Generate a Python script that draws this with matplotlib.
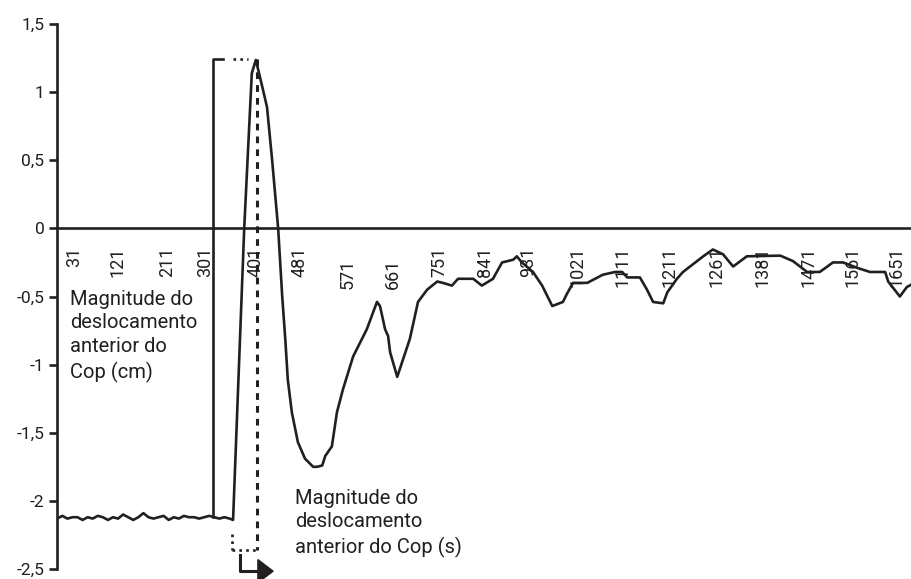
import matplotlib
matplotlib.use("Agg")
import matplotlib.pyplot as plt
import numpy as np

plt.rcParams['font.family'] = ['Roboto', 'DejaVu Sans']
ink = '#231f20'

# ---- data ----
# flat part before the step (noisy baseline)
base_x = [-6, 4, 14, 24, 34, 44, 54, 64, 74, 84, 94, 104, 114, 124, 134, 144, 154, 164,
          174, 184, 194, 204, 214, 224, 234, 244, 254, 264, 274, 284, 294, 304, 314, 324, 334]
base_y = [-2.13, -2.11, -2.13, -2.12, -2.12, -2.14, -2.12, -2.13, -2.11, -2.12, -2.14, -2.12,
          -2.13, -2.10, -2.12, -2.14, -2.12, -2.09, -2.12, -2.13, -2.12, -2.11, -2.14, -2.12,
          -2.13, -2.11, -2.12, -2.12, -2.13, -2.12, -2.11, -2.12, -2.13, -2.12, -2.13]
# response after the step
resp_x = [341, 363, 378, 386, 398, 408, 418, 430, 438, 444, 449, 457, 469, 483, 499, 507,
          517, 523, 536, 546, 558, 578, 605, 625, 631, 641, 647, 651, 665, 690, 706, 724,
          744, 755, 773, 785, 815, 832, 854, 872, 894, 901, 911, 933, 951, 971, 992, 1000,
          1012, 1040, 1071, 1095, 1109, 1119, 1144, 1158, 1170, 1190, 1198, 1217, 1229,
          1269, 1288, 1308, 1328, 1355, 1421, 1446, 1474, 1499, 1525, 1545, 1573, 1598,
          1628, 1634, 1657, 1671, 1681]
resp_y = [-2.14, 0.0, 1.14, 1.236, 1.05, 0.89, 0.505, 0.0, -0.50, -0.81, -1.11, -1.35,
          -1.57, -1.69, -1.75, -1.75, -1.74, -1.67, -1.60, -1.35, -1.18, -0.94, -0.74, -0.54,
          -0.57, -0.74, -0.79, -0.91, -1.09, -0.81, -0.54, -0.45, -0.39, -0.40, -0.42, -0.37,
          -0.37, -0.42, -0.37, -0.25, -0.23, -0.205, -0.25, -0.32, -0.42, -0.57, -0.54, -0.48,
          -0.40, -0.40, -0.34, -0.32, -0.32, -0.36, -0.36, -0.45, -0.54, -0.55, -0.47, -0.37,
          -0.32, -0.205, -0.155, -0.19, -0.28, -0.205, -0.20, -0.24, -0.32, -0.32, -0.25,
          -0.25, -0.29, -0.32, -0.32, -0.39, -0.50, -0.43, -0.41]

tick_pos = [28, 113, 210, 285, 385, 473, 568, 657, 749, 838, 923, 1020, 1109, 1203,
            1296, 1385, 1476, 1563, 1651]
tick_lab = ['31', '121', '211', '301', '401', '481', '571', '661', '751', '841', '931',
            '1021', '1111', '1211', '1261', '1381', '1471', '1561', '1651']
tick_drop = [13, 13, 13, 13, 13, 13, 22, 22, 13, 13, 13, 13, 13, 13, 13, 13, 13, 13, 13]

y_ticks = [-2.5, -2, -1.5, -1, -0.5, 0, 0.5, 1, 1.5]
y_labs = ['-2,5', '-2', '-1,5', '-1', '-0,5', '0', '0,5', '1', '1,5']

# annotation guides (start of movement, peak time)
onset_x, peak_x, peak_y = 301, 388, 1.24
box_solid_end, box_dot_start, box_dot_end = 321, 341, 370
low_y, low_left_x, low_left_top = -2.363, 339, -2.24
arrow_x, arrow_top, arrow_y, arrow_end, arrow_tip = 355, -2.40, -2.516, 390, 420

fig = plt.figure(figsize=(9.12, 5.79), dpi=100)
ax = fig.add_axes([57 / 912, 10 / 579, 855 / 912, 545 / 579])

ax.plot(base_x + resp_x, base_y + resp_y, color=ink, lw=1.9, solid_joinstyle='round')

# solid bracket at onset
ax.plot([onset_x, onset_x, box_solid_end], [-2.12, peak_y, peak_y], color=ink, lw=1.9)
ax.plot([box_dot_start, box_dot_end], [peak_y, peak_y], color=ink, lw=1.9,
        linestyle=(0, (1, 1.6)))
# dashed line from peak down
ax.plot([peak_x, peak_x], [peak_y, low_y], color=ink, lw=2.2, linestyle=(0, (2.2, 2.0)),
        clip_on=False)
ax.plot([low_left_x, peak_x], [low_y, low_y], color=ink, lw=1.9, linestyle=(0, (1, 1.6)),
        clip_on=False)
ax.plot([low_left_x, low_left_x], [low_left_top, low_y], color=ink, lw=1.9,
        linestyle=(0, (1, 1.6)), clip_on=False)
# arrow
ax.plot([arrow_x, arrow_x, arrow_end], [arrow_top, arrow_y, arrow_y], color=ink, lw=2.2,
        clip_on=False)
ax.fill([arrow_end, arrow_end, arrow_tip], [arrow_y + 0.085, arrow_y - 0.085, arrow_y],
        color=ink, clip_on=False)

ax.set_xlim(-6.5, 1681)
ax.set_ylim(-2.5, 1.5)
ax.spines['top'].set_visible(False)
ax.spines['right'].set_visible(False)
ax.spines['bottom'].set_position(('data', 0))
ax.spines['bottom'].set_linewidth(1.9)
ax.spines['left'].set_linewidth(1.9)
ax.spines['bottom'].set_color(ink)
ax.spines['left'].set_color(ink)

ax.set_xticks([])
ax.set_yticks(y_ticks)
ax.set_yticklabels(y_labs, fontsize=12.5, color=ink)
ax.tick_params(axis='y', length=6, width=1.9, color=ink, pad=3)

for p, lab, d in zip(tick_pos, tick_lab, tick_drop):
    ax.annotate(lab, xy=(p, 0), xytext=(0, -d), textcoords='offset points',
                rotation=90, ha='center', va='top', fontsize=13, color=ink)

ax.text(19, -0.45, 'Magnitude do\ndeslocamento\nanterior do\nCop (cm)', fontsize=14.5,
        color=ink, va='top', ha='left', linespacing=1.32)
ax.text(463, -1.91, 'Magnitude do\ndeslocamento\nanterior do Cop (s)', fontsize=14.5,
        color=ink, va='top', ha='left', linespacing=1.32)

fig.savefig('out.png', dpi=100)
